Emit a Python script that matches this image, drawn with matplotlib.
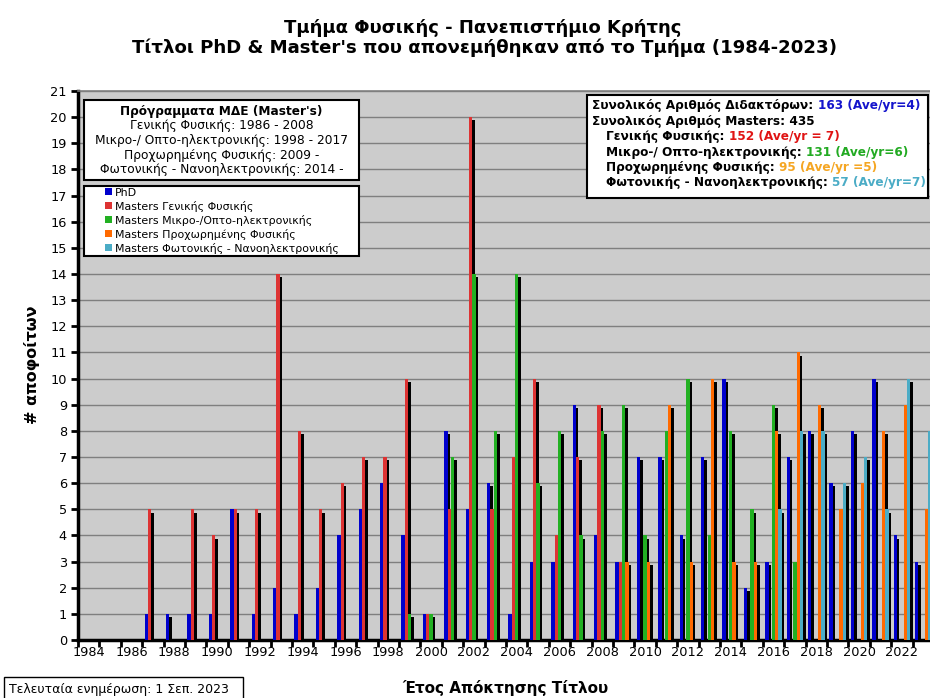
import matplotlib
matplotlib.use('Agg')
import matplotlib.pyplot as plt
from matplotlib.patches import Rectangle
from matplotlib.offsetbox import TextArea, HPacker, VPacker, AnchoredOffsetbox, DrawingArea
import numpy as np

plt.rcParams['font.family'] = ['DejaVu Sans']

# ---------------- data ----------------
years = list(range(1984, 2024))
phd = [0, 0, 0, 1, 1, 1, 1, 5, 1, 2, 1, 2, 4, 5, 6, 4, 1, 8, 5, 6,
       1, 3, 3, 9, 4, 3, 7, 7, 4, 7, 10, 2, 3, 7, 8, 6, 8, 10, 4, 3]
m_general = [0, 0, 0, 5, 0, 5, 4, 5, 5, 14, 8, 5, 6, 7, 7, 10, 1, 5, 20, 5,
             7, 10, 4, 7, 9, 3, 0, 0, 0, 0, 0, 0, 0, 0, 0, 0, 0, 0, 0, 0]
m_micro = [0, 0, 0, 0, 0, 0, 0, 0, 0, 0, 0, 0, 0, 0, 0, 1, 1, 7, 14, 8,
           14, 6, 8, 4, 8, 9, 4, 8, 10, 4, 8, 5, 9, 3, 0, 0, 0, 0, 0, 0]
m_advanced = [0, 0, 0, 0, 0, 0, 0, 0, 0, 0, 0, 0, 0, 0, 0, 0, 0, 0, 0, 0,
              0, 0, 0, 0, 0, 3, 3, 9, 3, 10, 3, 3, 8, 11, 9, 5, 6, 8, 9, 5]
m_photonics = [0, 0, 0, 0, 0, 0, 0, 0, 0, 0, 0, 0, 0, 0, 0, 0, 0, 0, 0, 0,
               0, 0, 0, 0, 0, 0, 0, 0, 0, 0, 0, 0, 5, 8, 8, 6, 7, 5, 10, 8]

series_labels = ["PhD", "Masters Γενικής Φυσικής", "Masters Μικρο-/Οπτο-ηλεκτρονικής",
                 "Masters Προχωρημένης Φυσικής", "Masters Φωτονικής - Νανοηλεκτρονικής"]
series_values = [phd, m_general, m_micro, m_advanced, m_photonics]
series_colors = ['#0000CC', '#DD3333', '#22B022', '#FF6A00', '#4BACC6']

title1 = "Τμήμα Φυσικής - Πανεπιστήμιο Κρήτης"
title2 = "Τίτλοι PhD & Master's που απονεμήθηκαν από το Τμήμα (1984-2023)"
xlabel = "Έτος Απόκτησης Τίτλου"
ylabel = "# αποφοίτων"
programs_title = "Πρόγραμματα ΜΔΕ (Master's)"
programs_lines = ["Γενικής Φυσικής: 1986 - 2008",
                  "Μικρο-/ Οπτο-ηλεκτρονικής: 1998 - 2017",
                  "Προχωρημένης Φυσικής: 2009 -",
                  "Φωτονικής - Νανοηλεκτρονικής: 2014 -"]
update_text = "Τελευταία ενημέρωση: 1 Σεπ. 2023"

# ---------------- figure ----------------
W, H = 930, 698
fig = plt.figure(figsize=(W / 100, H / 100), dpi=100)
fig.patch.set_facecolor('white')


def fx(px):
    return px / W


def fy(py):
    return 1 - py / H


ax_left, ax_right, ax_top, ax_bot = 78, 934, 91, 640
ax = fig.add_axes([fx(ax_left), fy(ax_bot), (ax_right - ax_left) / W, (ax_bot - ax_top) / H])
ax.set_facecolor('#CCCCCC')

x = np.arange(len(years))
w = 0.155
dx = 0.12
dy = 0.125
containers = []
# shadows first (only for non-zero bars)
for i, vals in enumerate(series_values):
    v = np.array(vals, dtype=float)
    nz = v > 0
    ax.bar(x[nz] + (i - 2) * w + dx, v[nz], width=w, bottom=-dy, color='black', zorder=2,
           linewidth=0)
for i, (vals, col, lab) in enumerate(zip(series_values, series_colors, series_labels)):
    v = np.array(vals, dtype=float)
    nz = v > 0
    c = ax.bar(x[nz] + (i - 2) * w, v[nz], width=w, color=col, zorder=3, linewidth=0, label=lab)
    containers.append(c)

ax.set_xlim(-0.5, len(years) - 0.5)
ax.set_ylim(0, 21)
ax.set_yticks(range(0, 22))
ax.yaxis.grid(True, color='#7F7F7F', linewidth=1.0)
ax.set_axisbelow(True)

ax.set_xticks(np.arange(len(years) + 1) - 0.5)
ax.set_xticklabels([])
lab_idx = [i for i, yv in enumerate(years) if yv % 2 == 0]
ax.set_xticks(lab_idx, minor=True)
ax.set_xticklabels([str(years[i]) for i in lab_idx], minor=True)
ax.tick_params(axis='x', which='major', length=5, width=2, direction='out', color='black')
ax.tick_params(axis='x', which='minor', length=0, labelsize=9.3, pad=4)
ax.tick_params(axis='y', which='major', length=5, width=2, direction='out', color='black',
               labelsize=9.3, pad=3)

for s in ['left', 'bottom']:
    ax.spines[s].set_linewidth(2.5)
    ax.spines[s].set_color('black')
ax.spines['top'].set_color('#7F7F7F')
ax.spines['top'].set_linewidth(1.2)
ax.spines['right'].set_visible(False)

# ---------------- titles ----------------
fig.text(fx(483), fy(33), title1, ha='center', va='baseline', fontsize=13, fontweight='bold')
fig.text(fx(484), fy(53), title2, ha='center', va='baseline', fontsize=13.1, fontweight='bold')
fig.text(fx(505), fy(688), xlabel, ha='center', va='center', fontsize=11, fontweight='bold')
fig.text(fx(32), fy(365), ylabel, ha='center', va='center', rotation=90, fontsize=11.5,
         fontweight='bold')


def add_box(x0, y0, x1, y1, lw=1.5):
    r = Rectangle((fx(x0), fy(y1)), (x1 - x0) / W, (y1 - y0) / H, transform=fig.transFigure,
                  facecolor='white', edgecolor='black', linewidth=lw, zorder=4)
    fig.add_artist(r)


# programs box
add_box(84, 100, 359, 180)
fig.text(fx(221.5), fy(111.7), programs_title, ha='center', va='center', fontsize=8.7,
         fontweight='bold', zorder=5)
for k, line in enumerate(programs_lines):
    fig.text(fx(221.5), fy(126 + 14.6 * k), line, ha='center', va='center', fontsize=8.85,
             zorder=5)

# legend box
add_box(84, 186, 359, 256)
leg = fig.legend(handles=containers, labels=series_labels, loc='upper left',
                 bbox_to_anchor=(fx(105), fy(187.5)), bbox_transform=fig.transFigure,
                 frameon=False, fontsize=7.9, handlelength=0.62, handleheight=0.62,
                 handletextpad=0.25, labelspacing=0.28, borderpad=0.0, borderaxespad=0)
leg.set_zorder(6)

# totals box
add_box(587, 95, 928, 198)
blue_t, red_t, green_t, orange_t, lb_t = '#1414CC', '#E01414', '#22AA22', '#F5A623', '#4BACC6'
tot_lines = [
    (False, [("Συνολικός Αριθμός Διδακτόρων: ", 'black'), ("163 (Ave/yr=4)", blue_t)]),
    (False, [("Συνολικός Αριθμός Masters: 435", 'black')]),
    (True, [("Γενικής Φυσικής: ", 'black'), ("152 (Ave/yr = 7)", red_t)]),
    (True, [("Μικρο-/ Οπτο-ηλεκτρονικής: ", 'black'), ("131 (Ave/yr=6)", green_t)]),
    (True, [("Προχωρημένης Φυσικής: ", 'black'), ("95 (Ave/yr =5)", orange_t)]),
    (True, [("Φωτονικής - Νανοηλεκτρονικής: ", 'black'), ("57 (Ave/yr=7)", lb_t)]),
]
rows = []
for indent, parts in tot_lines:
    ch = []
    if indent:
        ch.append(DrawingArea(10, 1))
    for txt, col in parts:
        ch.append(TextArea(txt, textprops=dict(color=col, fontsize=8.75, fontweight='bold')))
    rows.append(HPacker(children=ch, pad=0, sep=0, align='baseline'))
vp = VPacker(children=rows, pad=0, sep=1.7, align='left')
ab = AnchoredOffsetbox(loc='upper left', child=vp, pad=0, borderpad=0, frameon=False,
                       bbox_to_anchor=(fx(592), fy(99.5)), bbox_transform=fig.transFigure)
ab.set_zorder(6)
fig.add_artist(ab)

# update box
add_box(4, 677, 243, 703, lw=1)
fig.text(fx(9), fy(689), update_text, ha='left', va='center', fontsize=9.0, zorder=5)

fig.savefig('out.png', dpi=100)
